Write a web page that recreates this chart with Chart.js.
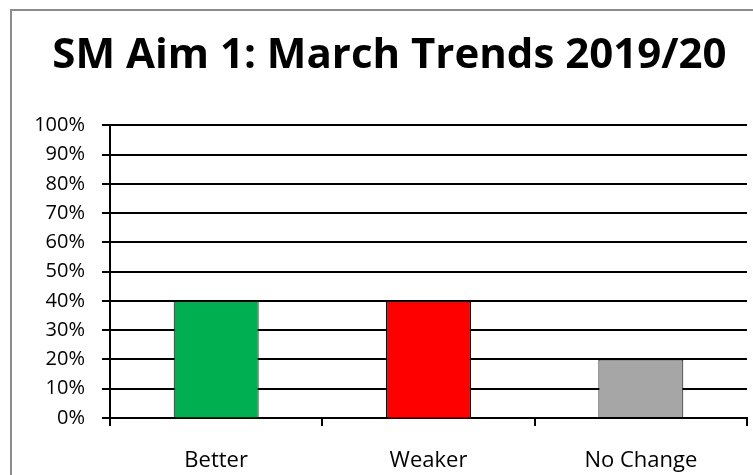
<!DOCTYPE html>
<html>
<head>
<meta charset="utf-8">
<script src="https://cdn.jsdelivr.net/npm/chart.js@4/dist/chart.umd.min.js"></script>
<style>
  html, body { margin: 0; padding: 0; background: #fff; }
  #wrap { width: 753px; height: 475px; }
</style>
</head>
<body>
<div id="wrap"><canvas id="myChart"></canvas></div>
<script>
const titleText = "SM Aim 1: March Trends 2019/20";
const categories = ["Better", "Weaker", "No Change"];
const values = [40, 40, 20];
const barColors = ["#00B050", "#FF0000", "#A6A6A6"];
const yTicks = [0, 10, 20, 30, 40, 50, 60, 70, 80, 90, 100];

// size the title so it spans about the same width as the picture
let measure = document.createElement("canvas").getContext("2d");
measure.font = "bold 100px 'Open Sans'";
let titleSize = Math.round((100 * 668) / measure.measureText(titleText).width);

// border round the whole picture (right and bottom edges fall off the page)
const frame = {
  id: "frame",
  beforeDraw: (chart) => {
    let ctx = chart.ctx;
    ctx.save();
    ctx.fillStyle = "#fff";
    ctx.fillRect(0, 0, chart.width, chart.height);
    ctx.strokeStyle = "#8c8c8c";
    ctx.lineWidth = 2;
    ctx.strokeRect(11, 10, 800, 500);
    ctx.restore();
  },
};

let myChart = document.getElementById("myChart").getContext("2d");
new Chart(myChart, {
  type: "bar",
  data: {
    labels: categories,
    datasets: [
      {
        label: "Trend",
        data: values,
        backgroundColor: barColors,
        borderColor: "#000",
        borderWidth: 1,
        categoryPercentage: 1,
        barPercentage: 0.4,
      },
    ],
  },
  options: {
    responsive: true,
    maintainAspectRatio: false,
    animation: false,
    layout: { padding: { left: 32, right: 6, top: 0, bottom: 0 } },
    plugins: {
      legend: { display: false },
      tooltip: { enabled: false },
      title: {
        display: true,
        text: titleText,
        color: "#000",
        font: { family: "'Open Sans'", size: titleSize, weight: "bold" },
        padding: { top: 31, bottom: 44 },
      },
    },
    scales: {
      x: {
        offset: true,
        afterFit: (s) => { s.height = 57; },
        grid: {
          offset: true,
          drawOnChartArea: false,
          drawTicks: true,
          tickLength: 8,
          color: "#000",
          lineWidth: 2,
        },
        border: { color: "#000", width: 2 },
        ticks: {
          color: "#000",
          padding: 22,
          font: { family: "'Open Sans'", size: 22 },
        },
      },
      y: {
        min: 0,
        max: 100,
        afterFit: (s) => { s.width = 78; },
        afterBuildTicks: (s) => { s.ticks = yTicks.map((v) => ({ value: v })); },
        grid: {
          color: "#000",
          lineWidth: 2,
          drawTicks: true,
          tickLength: 8,
        },
        border: { color: "#000", width: 2 },
        ticks: {
          color: "#000",
          padding: 17,
          font: { family: "'Open Sans'", size: 20 },
          callback: (v) => v + "%",
        },
      },
    },
  },
  plugins: [frame],
});
</script>
</body>
</html>
